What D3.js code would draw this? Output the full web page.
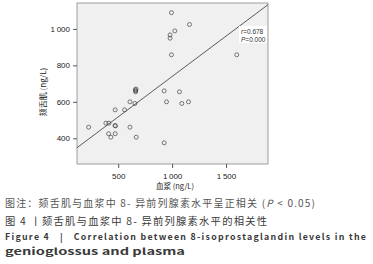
<!DOCTYPE html>
<html lang="zh">
<head>
<meta charset="utf-8">
<script src="https://d3js.org/d3.v7.min.js"></script>
<style>
  body { margin: 0; background: #fff; }
  svg text { font-family: "Liberation Sans", Arial, sans-serif; }
  .cap { font-family: "Noto Sans CJK SC", "Noto Sans", sans-serif; }
</style>
</head>
<body>
<div id="chart"></div>
<script>
// plasma (x) vs genioglossus (y), ng/L
var plasma = [994, 1161, 1025, 981, 981, 994, 1599, 659, 663, 661, 665, 926, 1068,
              609, 655, 948, 1090, 1152, 472, 559, 226, 386, 414, 470, 475, 609,
              411, 472, 432, 667, 926];
var genio  = [1089, 1024, 989, 967, 949, 858, 858, 666, 660, 655, 670, 660, 655,
              600, 591, 600, 591, 600, 556, 556, 461, 483, 483, 470, 468, 461,
              425, 425, 406, 406, 375];
var xTicks = [500, 1000, 1500];
var yTicks = [400, 600, 800, 1000];
var fit = { a: 296, b: 0.443 }; // y = a + b*x
var statLines = ["r=0.678", "P=0.000"];
var captions = [
  "图注：颏舌肌与血浆中 8- 异前列腺素水平呈正相关 (P < 0.05)",
  "图 4 丨颏舌肌与血浆中 8- 异前列腺素水平的相关性",
  "Figure 4\u00a0\u00a0 |\u00a0\u00a0 Correlation between 8-isoprostaglandin levels in the",
  "genioglossus and plasma"
];

var W = 373, H = 264;
var plot = { left: 77, right: 268, top: 3, bottom: 164 };

var svg = d3.select("#chart").append("svg")
    .attr("width", W).attr("height", H);

var x = d3.scaleLinear().domain([118, 1889]).range([plot.left, plot.right]);
var y = d3.scaleLinear().domain([259, 1142]).range([plot.bottom, plot.top]);

// plot background
svg.append("rect")
    .attr("x", plot.left).attr("y", plot.top)
    .attr("width", plot.right - plot.left).attr("height", plot.bottom - plot.top)
    .attr("fill", "#f0f0f0").attr("stroke", "#888").attr("stroke-width", 0.8);

// axes
var fmt = function(d){ return d >= 1000 ? d3.format(",")(d).replace(",", "\u2009") : d; };
var gx = svg.append("g")
    .attr("transform", "translate(0," + plot.bottom + ")")
    .call(d3.axisBottom(x).tickValues(xTicks).tickSize(4).tickFormat(fmt));
var gy = svg.append("g")
    .attr("transform", "translate(" + plot.left + ",0)")
    .call(d3.axisLeft(y).tickValues(yTicks).tickSize(4).tickFormat(fmt));
[gx, gy].forEach(function(g){
  g.select(".domain").remove();
  g.selectAll("line").attr("stroke", "#555");
  g.selectAll("text").attr("fill", "#222").style("font-size", "8px");
});
gx.selectAll("text").attr("y", 14.5).attr("dy", 0);

// fit line
svg.append("clipPath").attr("id", "clip").append("rect")
    .attr("x", plot.left).attr("y", plot.top)
    .attr("width", plot.right - plot.left).attr("height", plot.bottom - plot.top);
svg.append("line")
    .attr("clip-path", "url(#clip)")
    .attr("x1", x(118)).attr("y1", y(fit.a + fit.b * 118))
    .attr("x2", x(1889)).attr("y2", y(fit.a + fit.b * 1889))
    .attr("stroke", "#333").attr("stroke-width", 0.8);

// points
svg.append("g").selectAll("circle")
    .data(plasma)
    .enter().append("circle")
    .attr("cx", function(d){ return x(d); })
    .attr("cy", function(d, i){ return y(genio[i]); })
    .attr("r", 2)
    .attr("fill", "none")
    .attr("stroke", "#444")
    .attr("stroke-width", 0.7);

// stat box
svg.append("rect")
    .attr("x", 239).attr("y", 26).attr("width", 28).attr("height", 17)
    .attr("fill", "#fff");
svg.selectAll(".stat")
    .data(statLines)
    .enter().append("text")
    .attr("class", "stat")
    .attr("x", 241).attr("y", function(d, i){ return 33.5 + i * 8.3; })
    .style("font-size", "6.5px").attr("fill", "#333")
    .html(function(d){
      var p = d.split("=");
      return "<tspan font-style='italic'>" + p[0] + "</tspan>=" + p[1];
    });

// axis titles
svg.append("text")
    .attr("class", "cap")
    .attr("x", 175).attr("y", 189)
    .attr("text-anchor", "middle")
    .style("font-size", "7.5px").attr("fill", "#222")
    .text("血浆 (ng/L)");
svg.append("text")
    .attr("class", "cap")
    .attr("transform", "translate(46,92) rotate(-90)")
    .attr("text-anchor", "middle")
    .style("font-size", "8px").attr("fill", "#222")
    .text("颏舌肌 (ng/L)");

// captions
svg.append("text").attr("class", "cap")
    .attr("x", 5).attr("y", 207)
    .attr("textLength", 310).attr("lengthAdjust", "spacing")
    .style("font-size", "10px").attr("fill", "#555")
    .html("图注：颏舌肌与血浆中 8- 异前列腺素水平呈正相关 (<tspan font-style='italic'>P</tspan> &lt; 0.05)");
svg.append("text").attr("class", "cap")
    .attr("x", 5).attr("y", 225)
    .attr("textLength", 262).attr("lengthAdjust", "spacing")
    .style("font-size", "10.3px").attr("fill", "#3a3a3a")
    .text(captions[1]);
svg.append("text").attr("class", "cap")
    .attr("x", 5).attr("y", 240)
    .attr("textLength", 361).attr("lengthAdjust", "spacing")
    .style("font-size", "8.8px").style("font-weight", "bold").attr("fill", "#3a3a3a")
    .text(captions[2]);
svg.append("text").attr("class", "cap")
    .attr("x", 5).attr("y", 254.5)
    .attr("textLength", 180).attr("lengthAdjust", "spacingAndGlyphs")
    .style("font-size", "9.2px").style("font-weight", "bold").attr("fill", "#3a3a3a")
    .text(captions[3]);
</script>
</body>
</html>
